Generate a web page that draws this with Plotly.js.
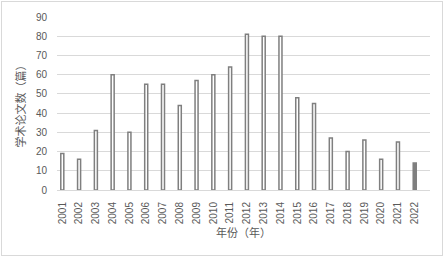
<!DOCTYPE html>
<html>
<head>
<meta charset="utf-8">
<script src="https://cdn.plot.ly/plotly-3.0.1.min.js"></script>
<style>
  html, body { margin: 0; padding: 0; background: #fff; }
  #wrap { position: relative; width: 445px; height: 258px; }
  #chart { width: 445px; height: 258px; }
  #frame { position: absolute; left: 1px; top: 1px; width: 440px; height: 253px;
           border: 1px solid #d9d9d9; pointer-events: none; }
</style>
</head>
<body>
<div id="wrap">
  <div id="chart"></div>
  <div id="frame"></div>
</div>
<script>
const years = ['2001','2002','2003','2004','2005','2006','2007','2008','2009','2010','2011',
               '2012','2013','2014','2015','2016','2017','2018','2019','2020','2021','2022'];
const papers = [19, 16, 31, 60, 30, 55, 55, 44, 57, 60, 64,
                81, 80, 80, 48, 45, 27, 20, 26, 16, 25, 14];
const yTicks = [0, 10, 20, 30, 40, 50, 60, 70, 80, 90];
const yTitle = '学术论文数（篇）';
const xTitle = '年份（年）';

const fills = years.map((y, i) => i === years.length - 1 ? '#7f7f7f' : '#ffffff');

const trace = {
  type: 'bar',
  x: years,
  y: papers,
  marker: { color: fills, line: { color: '#7f7f7f', width: 1.5 } },
  hoverinfo: 'x+y'
};

const font = { family: 'Liberation Sans, Arial, Noto Sans CJK SC, sans-serif', size: 10, color: '#595959' };
const titleFont = { family: 'Noto Sans CJK SC, sans-serif', size: 11, color: '#595959' };

const layout = {
  width: 445, height: 258,
  margin: { l: 57, r: 15, t: 17, b: 68, pad: 0 },
  paper_bgcolor: '#ffffff', plot_bgcolor: '#ffffff',
  showlegend: false,
  bargap: 0.82,
  font: font,
  xaxis: {
    type: 'category',
    range: [-0.316, 21.91],
    tickangle: -90,
    showgrid: false,
    showline: true, linecolor: '#d9d9d9', linewidth: 1,
    ticks: '',
    ticklabelstandoff: 7,
    tickfont: font,
    automargin: false,
    title: { text: xTitle, font: titleFont, standoff: 2 }
  },
  yaxis: {
    range: [0, 90],
    tickvals: yTicks,
    ticktext: yTicks.map(String),
    showgrid: true, gridcolor: '#d9d9d9', gridwidth: 1,
    zeroline: false, showline: false,
    ticks: '',
    ticklabelstandoff: 9,
    tickfont: font,
    automargin: false,
    title: { text: yTitle, font: titleFont, standoff: 8 }
  }
};

Plotly.newPlot('chart', [trace], layout, { displayModeBar: false, staticPlot: true });
</script>
</body>
</html>
